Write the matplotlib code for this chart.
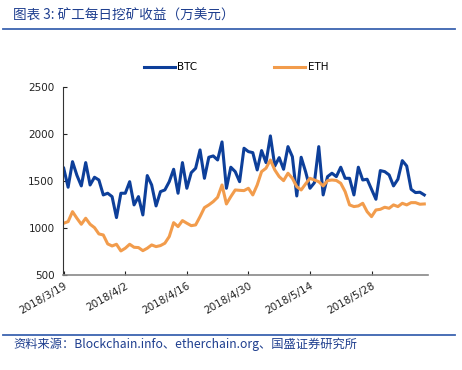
import matplotlib.pyplot as plt
import numpy as np
import pandas as pd

plt.rcParams['font.family'] = ['DejaVu Sans', 'Noto Sans CJK SC']

# daily mining revenue, 10k USD, starting 2018-03-19
start_date = "2018-03-19"
btc = [1635, 1433, 1705, 1560, 1447, 1695, 1457, 1539, 1510, 1351,
       1369, 1333, 1110, 1369, 1369, 1492, 1245, 1333, 1138, 1557,
       1457, 1234, 1386, 1404, 1492, 1624, 1369, 1695, 1422, 1588,
       1635, 1830, 1528, 1752, 1766, 1723, 1915, 1422, 1646, 1599,
       1492, 1848, 1812, 1801, 1617, 1823, 1695, 1979, 1659, 1748,
       1624, 1865, 1758, 1340, 1752, 1599, 1422, 1480, 1865, 1351,
       1546, 1582, 1546, 1646, 1528, 1528, 1351, 1646, 1510, 1518,
       1411, 1305, 1610, 1599, 1564, 1447, 1518, 1716, 1659, 1411,
       1376, 1380, 1351]
eth = [1050, 1067, 1173, 1103, 1039, 1103, 1039, 1003, 936, 925,
       830, 808, 826, 755, 784, 826, 794, 791, 758, 784,
       819, 801, 812, 837, 908, 1056, 1014, 1078, 1050, 1024,
       1032, 1120, 1216, 1245, 1280, 1326, 1457, 1255, 1333, 1404,
       1400, 1397, 1422, 1351, 1457, 1599, 1635, 1723, 1617, 1546,
       1503, 1582, 1528, 1439, 1404, 1468, 1528, 1510, 1492, 1447,
       1503, 1510, 1505, 1475, 1386, 1245, 1227, 1234, 1262, 1173,
       1120, 1191, 1198, 1220, 1209, 1245, 1227, 1262, 1245, 1269,
       1269, 1252, 1255]
yticks = [500, 1000, 1500, 2000, 2500]

dates = pd.date_range(start_date, periods=len(btc), freq="D")
days = np.arange(len(btc))
tick_days = days[::14]
tick_labels = [f"{d.year}/{d.month}/{d.day}" for d in dates[::14]]

blue = "#0d3f9a"
orange = "#f29c4c"
text_blue = "#1f3f8f"

fig = plt.figure(figsize=(4.62, 3.70), dpi=100)
ax = fig.add_axes([0.136, 0.257, 0.790, 0.508])

ax.plot(days, btc, color=blue, lw=2.2, label="BTC")
ax.plot(days, eth, color=orange, lw=2.2, label="ETH")

ax.set_xlim(-0.2, 82.8)
ax.set_ylim(500, 2500)
ax.set_yticks(yticks)
ax.set_xticks(tick_days)
ax.set_xticklabels(tick_labels, rotation=30, ha="right", rotation_mode="anchor")
ax.tick_params(axis="both", direction="in", length=3, labelsize=7.5, colors="#222222")
ax.tick_params(axis="x", pad=4)
ax.tick_params(axis="y", pad=6)

for s in ["top", "right"]:
    ax.spines[s].set_visible(False)
ax.spines["left"].set_color("#333333")
ax.spines["bottom"].set_color("#888888")
ax.spines["bottom"].set_linewidth(1.2)

ax.legend(loc="upper center", bbox_to_anchor=(0.474, 1.18), ncol=2, frameon=False,
          fontsize=7.5, handlelength=3.0, handletextpad=0.2, columnspacing=7.4)

# header / footer
fig.text(0.028, 0.958, "图表 3: 矿工每日挖矿收益（万美元）", color=text_blue,
         fontsize=9.8, style="italic", va="center",
         family=["Noto Sans CJK SC", "DejaVu Sans"])
fig.add_artist(plt.Line2D([0.006, 0.985], [0.922, 0.922], color="#3b63b0", lw=1.3))
fig.add_artist(plt.Line2D([0.006, 0.985], [0.095, 0.095], color="#3b63b0", lw=1.3))
fig.text(0.028, 0.07, "资料来源：Blockchain.info、etherchain.org、国盛证券研究所",
         color=text_blue, fontsize=8.8, style="italic", va="center",
         family=["Noto Sans CJK SC", "DejaVu Sans"])

fig.savefig("out.png", dpi=100)
